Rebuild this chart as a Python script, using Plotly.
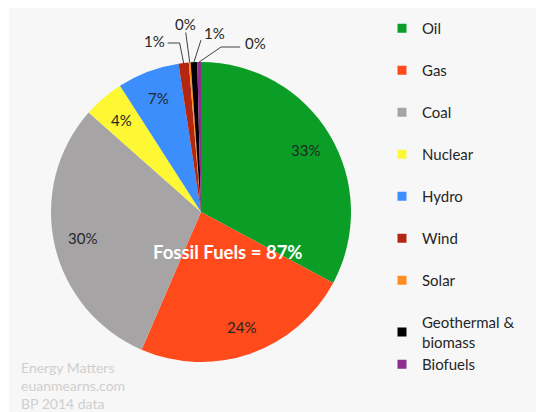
import math
import plotly.graph_objects as go

# ---- data ----
categories = ["Oil", "Gas", "Coal", "Nuclear", "Hydro", "Wind", "Solar",
              "Geothermal & biomass", "Biofuels"]
legend_labels = ["Oil", "Gas", "Coal", "Nuclear", "Hydro", "Wind", "Solar",
                 "Geothermal &<br>biomass", "Biofuels"]
shares = [32.9, 23.7, 30.1, 4.4, 6.7, 1.1, 0.2, 0.7, 0.4]
fossil = ["Oil", "Gas", "Coal"]
colors = ["#0a9e26", "#ff4a1c", "#a6a4a5", "#fdf734", "#3b8efc",
          "#b3260f", "#ff8c22", "#000000", "#8e2c90"]
credit_lines = ["Energy Matters", "euanmearns.com", "BP 2014 data"]

# ---- geometry / style ----
W, H = 536, 412
CX, CY, R = 201, 212, 150
FONT = "Lato, Carlito, Open Sans, sans-serif"

def fx(px):
    return px / W

def fy(py):
    return 1 - py / H

total = sum(shares)
mids = []
acc = 0.0
for v in shares:
    mids.append((acc + v / 2) / total * 360.0)
    acc += v

def polar(theta_deg, r):
    t = math.radians(theta_deg)
    return CX + r * math.sin(t), CY - r * math.cos(t)

fig = go.Figure()

fig.add_trace(go.Pie(
    labels=categories, values=shares, sort=False, direction="clockwise",
    rotation=0, marker=dict(colors=colors, line=dict(width=0)),
    textinfo="none", hoverinfo="label+percent", showlegend=False,
    domain=dict(x=[fx(CX - R), fx(CX + R)], y=[fy(CY + R), fy(CY - R)]),
))

# legend via dummy traces (for spacing control)
for lab, col, cat in zip(legend_labels, colors, categories):
    grp = "renew" if cat in ("Geothermal & biomass", "Biofuels") else cat
    fig.add_trace(go.Scatter(
        x=[None], y=[None], mode="markers", name=lab, legendgroup=grp,
        marker=dict(symbol="square", size=9, color=col), hoverinfo="skip",
    ))

annotations = []
shapes = []

# background panel (white frame strip at top/left)
shapes.append(dict(type="rect", xref="paper", yref="paper", layer="below",
                   x0=fx(9), x1=1.0, y0=0.0, y1=fy(8),
                   fillcolor="#f7f7f7", line=dict(width=0)))

inside = {"Oil", "Gas", "Coal", "Nuclear", "Hydro"}
# outside label offsets (px) relative to rim point, and leader elbows
outside_style = {
    "Wind": dict(dx=-29, dy=-22, path=lambda rx, ry, lx, ly: [(rx, ry), (rx - 4, ly + 2), (lx + 13, ly + 2)]),
    "Solar": dict(dx=-4, dy=-38, path=lambda rx, ry, lx, ly: [(rx, ry), (lx, ly + 8)]),
    "Geothermal & biomass": dict(dx=21, dy=-29, path=lambda rx, ry, lx, ly: [(rx, ry), (lx - 14, ly + 7)]),
    "Biofuels": dict(dx=56, dy=-19, path=lambda rx, ry, lx, ly: [(rx, ry), (lx - 34, ly + 4), (lx - 15, ly + 4)]),
}

lab_font = dict(family=FONT, size=15, color="#262626")
for cat, v, th in zip(categories, shares, mids):
    pct = "%d%%" % round(v / total * 100)
    if cat in inside:
        x, y = polar(th, 0.81 * R)
    else:
        st = outside_style[cat]
        rx, ry = polar(th, R)
        x, y = rx + st["dx"], ry + st["dy"]
        pts = st["path"](rx, ry, x, y)
        d = "M " + " L ".join("%f,%f" % (fx(px), fy(py)) for px, py in pts)
        shapes.append(dict(type="path", xref="paper", yref="paper", path=d,
                           line=dict(color="#404040", width=1)))
    annotations.append(dict(x=fx(x), y=fy(y), xref="paper", yref="paper",
                            xanchor="center", yanchor="middle",
                            text=pct, showarrow=False, font=lab_font))

fossil_pct = round(sum(v for c, v in zip(categories, shares) if c in fossil) / total * 100)
annotations.append(dict(x=fx(CX + 27), y=fy(CY + 40), xref="paper", yref="paper",
                        xanchor="center", yanchor="middle",
                        text="<b>Fossil Fuels = %d%%</b>" % fossil_pct, showarrow=False,
                        font=dict(family=FONT, size=18.5, color="white")))

annotations.append(dict(x=fx(19), y=fy(385), xref="paper", yref="paper",
                        xanchor="left", yanchor="middle", align="left",
                        text="<br>".join(credit_lines), showarrow=False,
                        font=dict(family=FONT, size=14, color="#cfcfcf")))

fig.update_layout(
    width=W, height=H, margin=dict(l=0, r=0, t=0, b=0),
    paper_bgcolor="white", plot_bgcolor="rgba(0,0,0,0)",
    xaxis=dict(visible=False), yaxis=dict(visible=False),
    showlegend=True,
    legend=dict(x=fx(382), y=fy(12), xanchor="left", yanchor="top",
                bgcolor="rgba(0,0,0,0)", itemwidth=30, tracegroupgap=19.5,
                font=dict(family=FONT, size=15, color="#262626"),
                itemclick=False, itemdoubleclick=False),
    annotations=annotations, shapes=shapes,
    font=dict(family=FONT),
)

fig.write_html("out.html", config={"displayModeBar": False},
               post_script="document.body.style.margin='0';document.body.style.overflow='hidden';")
